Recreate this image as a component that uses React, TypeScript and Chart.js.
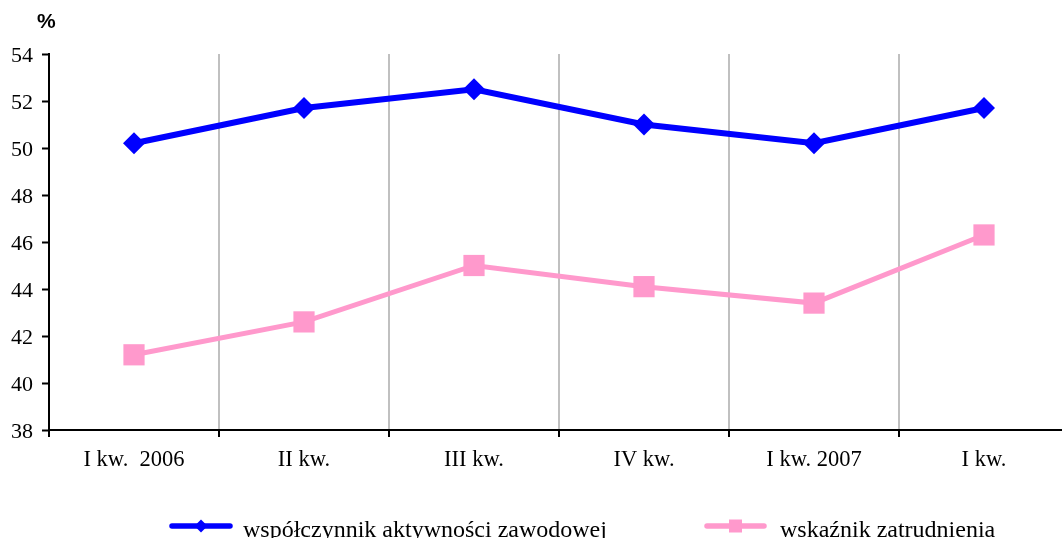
import React, { useEffect, useRef } from "react";
import { Chart, registerables } from "chart.js";

Chart.register(...registerables);

const categories = ["I kw.  2006", "II kw.", "III kw.", "IV kw.", "I kw. 2007", "I kw."];
const activityRate = [50.2, 51.7, 52.5, 51.0, 50.2, 51.7];
const employmentRate = [41.2, 42.6, 45.0, 44.1, 43.4, 46.3];
const seriesNames = ["współczynnik aktywności zawodowej", "wskaźnik zatrudnienia"];
const yTicks = { min: 38, max: 54, step: 2 };

const BLUE = "#0000FF";
const PINK = "#FF99CC";
const FONT = "'Liberation Serif', 'Times New Roman', serif";

const labelsPlugin = {
  id: "customLabels",
  afterDraw(chart: any) {
    const ctx = chart.ctx;
    const xs = chart.scales.x;
    const ys = chart.scales.y;
    ctx.save();
    ctx.fillStyle = "#000";
    // y tick labels
    ctx.font = `22px ${FONT}`;
    ctx.textAlign = "right";
    ctx.textBaseline = "alphabetic";
    ys.ticks.forEach((t: any) => {
      const py = ys.getPixelForValue(t.value);
      ctx.fillText(String(t.value), 33, py + 7.5);
    });
    // x tick labels
    ctx.font = `22.5px ${FONT}`;
    ctx.textAlign = "center";
    categories.forEach((c, i) => {
      const px = xs.getPixelForTick(i);
      ctx.fillText(c, px, 466);
    });
    // legend
    const y = 526;
    const items = [
      { x0: 172, x1: 230, color: BLUE, style: "diamond", text: seriesNames[0], tx: 243 },
      { x0: 707, x1: 764, color: PINK, style: "square", text: seriesNames[1], tx: 780 },
    ];
    for (const it of items) {
      ctx.strokeStyle = it.color;
      ctx.lineWidth = 5.5;
      ctx.lineCap = "round";
      ctx.beginPath();
      ctx.moveTo(it.x0, y);
      ctx.lineTo(it.x1, y);
      ctx.stroke();
      const cx = (it.x0 + it.x1) / 2;
      ctx.fillStyle = it.color;
      ctx.beginPath();
      if (it.style === "diamond") {
        const r = 6.5;
        ctx.moveTo(cx, y - r);
        ctx.lineTo(cx + r, y);
        ctx.lineTo(cx, y + r);
        ctx.lineTo(cx - r, y);
        ctx.closePath();
      } else {
        const h = 6.5;
        ctx.rect(cx - h, y - h, 2 * h, 2 * h);
      }
      ctx.fill();
      ctx.fillStyle = "#000";
      ctx.font = `24px ${FONT}`;
      ctx.textBaseline = "alphabetic";
      ctx.textAlign = "left";
      ctx.fillText(it.text, it.tx, 537);
    }
    ctx.font = "bold 21px 'Liberation Sans', Arial, sans-serif";
    ctx.textBaseline = "middle";
    ctx.textAlign = "left";
    ctx.fillText("%", 37, 22);
    ctx.restore();
  },
};

export default function App() {
  const ref = useRef<HTMLCanvasElement | null>(null);
  useEffect(() => {
    if (!ref.current) return;
    const chart = new Chart(ref.current, {
      type: "line",
      data: {
        labels: categories,
        datasets: [
          {
            label: seriesNames[0],
            data: activityRate,
            borderColor: BLUE,
            backgroundColor: BLUE,
            borderWidth: 6,
            pointStyle: "rectRot",
            pointRadius: 11,
            pointBorderWidth: 0,
            tension: 0,
          },
          {
            label: seriesNames[1],
            data: employmentRate,
            borderColor: PINK,
            backgroundColor: PINK,
            borderWidth: 5,
            pointStyle: "rect",
            pointRadius: 15,
            pointBorderWidth: 0,
            tension: 0,
          },
        ],
      },
      options: {
        animation: false,
        responsive: false,
        layout: { autoPadding: false, padding: { top: 54, right: 0, bottom: 101, left: 42 } },
        plugins: { legend: { display: false }, tooltip: { enabled: false } },
        scales: {
          x: {
            offset: true,
            grid: {
              offset: true,
              color: (c: any) => (c.index === 0 ? "rgba(0,0,0,0)" : "#C0C0C0"),
              lineWidth: 2,
              tickColor: "#000",
              tickLength: 7,
              tickWidth: 2,
            },
            border: { color: "#000", width: 2 },
            ticks: { display: false, autoSkip: false },
          },
          y: {
            min: yTicks.min,
            max: yTicks.max,
            grid: { drawOnChartArea: false, tickColor: "#000", tickLength: 7, tickWidth: 2 },
            border: { color: "#000", width: 2 },
            ticks: { display: false, stepSize: yTicks.step },
          },
        },
      },
      plugins: [labelsPlugin],
    });
    return () => chart.destroy();
  }, []);
  return (
    <div style={{ position: "absolute", left: 0, top: 0, width: 1062, height: 538, background: "#fff", overflow: "hidden" }}>
      <canvas ref={ref} width={1069} height={538} style={{ display: "block" }} />
    </div>
  );
}
